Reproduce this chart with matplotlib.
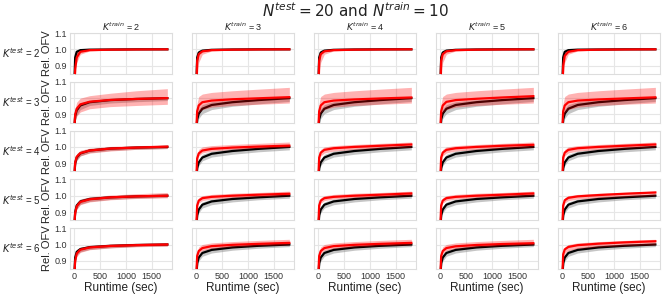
import matplotlib
matplotlib.use('Agg')
import matplotlib.pyplot as plt

# ---------------- data ----------------
T = [5, 20, 50, 120, 300, 700, 1200, 1800]          # runtime (sec)
K_TEST = [2, 3, 4, 5, 6]
K_TRAIN = [2, 3, 4, 5, 6]
X_TICKS = [0, 500, 1000, 1500]
Y_TICKS = [0.9, 1.0, 1.1]

# K_test = 2 (one list per K_train column)
black_k2 = [[0.80, 0.95, 0.985, 0.995, 0.998, 0.999, 1.0, 1.0],
            [0.80, 0.95, 0.980, 0.992, 0.997, 0.999, 1.0, 1.0],
            [0.80, 0.95, 0.980, 0.992, 0.997, 0.999, 1.0, 1.0],
            [0.80, 0.95, 0.980, 0.992, 0.997, 0.999, 1.0, 1.0],
            [0.80, 0.95, 0.985, 0.995, 0.998, 0.999, 1.0, 1.0]]
red_k2 = [[0.75, 0.88, 0.950, 0.985, 0.995, 0.998, 0.999, 1.0],
          [0.78, 0.93, 0.970, 0.988, 0.995, 0.998, 0.999, 1.0],
          [0.78, 0.93, 0.970, 0.988, 0.995, 0.998, 0.999, 1.0],
          [0.78, 0.93, 0.970, 0.988, 0.995, 0.998, 0.999, 1.0],
          [0.75, 0.90, 0.960, 0.985, 0.995, 0.998, 0.999, 1.0]]
black_lo_k2 = [0.75, 0.92, 0.970, 0.985, 0.994, 0.997, 0.999, 0.999]
black_hi_k2 = [0.85, 0.98, 0.995, 0.999, 1.000, 1.000, 1.000, 1.001]
red_lo_k2 = [0.70, 0.83, 0.920, 0.970, 0.990, 0.995, 0.998, 0.999]
red_hi_k2 = [0.80, 0.95, 0.985, 0.995, 0.999, 1.000, 1.000, 1.001]

# K_test = 3
black_k3 = [[0.82, 0.89, 0.925, 0.955, 0.975, 0.988, 0.995, 1.000],
            [0.80, 0.87, 0.905, 0.935, 0.958, 0.975, 0.988, 1.000],
            [0.80, 0.87, 0.905, 0.935, 0.958, 0.975, 0.988, 1.000],
            [0.80, 0.87, 0.905, 0.935, 0.958, 0.975, 0.988, 1.000],
            [0.80, 0.87, 0.905, 0.935, 0.958, 0.975, 0.988, 1.000]]
red_k3 = [[0.82, 0.90, 0.935, 0.962, 0.978, 0.989, 0.995, 1.000],
          [0.82, 0.92, 0.955, 0.975, 0.985, 0.993, 0.999, 1.006],
          [0.82, 0.92, 0.955, 0.975, 0.985, 0.992, 0.998, 1.004],
          [0.82, 0.92, 0.955, 0.977, 0.988, 0.996, 1.004, 1.012],
          [0.82, 0.92, 0.955, 0.975, 0.985, 0.992, 0.998, 1.005]]
black_lo_k3 = [[0.80, 0.86, 0.895, 0.930, 0.955, 0.970, 0.978, 0.985],
               [0.78, 0.84, 0.875, 0.905, 0.930, 0.950, 0.965, 0.980]]
black_hi_k3 = [[0.84, 0.91, 0.945, 0.970, 0.985, 0.995, 1.000, 1.005],
               [0.83, 0.90, 0.935, 0.960, 0.978, 0.990, 0.998, 1.008]]
red_lo_k3 = [[0.80, 0.86, 0.890, 0.915, 0.935, 0.948, 0.955, 0.962],
             [0.80, 0.88, 0.910, 0.930, 0.945, 0.955, 0.962, 0.970]]
red_hi_k3 = [[0.85, 0.94, 0.975, 1.000, 1.015, 1.030, 1.045, 1.058],
             [0.86, 0.97, 1.010, 1.025, 1.035, 1.045, 1.055, 1.066]]

# K_test = 4
black_k4 = [[0.82, 0.90, 0.935, 0.960, 0.978, 0.990, 0.996, 1.000],
            [0.80, 0.87, 0.905, 0.935, 0.958, 0.975, 0.988, 1.000],
            [0.80, 0.87, 0.905, 0.935, 0.958, 0.975, 0.988, 1.000],
            [0.80, 0.87, 0.905, 0.935, 0.958, 0.975, 0.988, 1.000],
            [0.80, 0.87, 0.905, 0.935, 0.958, 0.975, 0.988, 1.000]]
red_k4 = [[0.82, 0.905, 0.940, 0.962, 0.978, 0.990, 0.996, 1.002],
          [0.82, 0.930, 0.960, 0.978, 0.988, 0.996, 1.002, 1.008],
          [0.82, 0.935, 0.965, 0.982, 0.992, 1.000, 1.007, 1.015],
          [0.82, 0.935, 0.965, 0.982, 0.992, 1.000, 1.007, 1.013],
          [0.82, 0.935, 0.965, 0.982, 0.992, 1.000, 1.007, 1.015]]
black_lo_k4 = [[0.80, 0.88, 0.915, 0.945, 0.965, 0.978, 0.985, 0.990],
               [0.78, 0.85, 0.885, 0.915, 0.938, 0.955, 0.970, 0.982]]
black_hi_k4 = [[0.84, 0.92, 0.955, 0.975, 0.990, 1.000, 1.005, 1.008],
               [0.82, 0.89, 0.925, 0.955, 0.975, 0.990, 1.000, 1.010]]
red_lo_k4 = [[0.80, 0.885, 0.920, 0.945, 0.962, 0.975, 0.985, 0.990],
             [0.80, 0.915, 0.945, 0.963, 0.975, 0.985, 0.992, 0.998]]
red_hi_k4 = [[0.84, 0.925, 0.960, 0.980, 0.992, 1.003, 1.008, 1.012],
             [0.84, 0.955, 0.985, 1.000, 1.008, 1.015, 1.022, 1.030]]

# K_test = 5
black_k5 = [[0.82, 0.90, 0.940, 0.965, 0.980, 0.990, 0.996, 1.000],
            [0.80, 0.88, 0.915, 0.945, 0.965, 0.980, 0.990, 1.000],
            [0.80, 0.88, 0.915, 0.945, 0.965, 0.980, 0.990, 1.000],
            [0.80, 0.88, 0.915, 0.945, 0.965, 0.980, 0.990, 1.000],
            [0.80, 0.88, 0.915, 0.945, 0.965, 0.980, 0.990, 1.000]]
red_k5 = [[0.82, 0.895, 0.935, 0.962, 0.978, 0.990, 0.996, 1.000],
          [0.82, 0.940, 0.970, 0.985, 0.993, 1.000, 1.006, 1.012],
          [0.82, 0.940, 0.970, 0.985, 0.993, 1.000, 1.006, 1.014],
          [0.82, 0.940, 0.970, 0.985, 0.993, 1.000, 1.006, 1.014],
          [0.82, 0.940, 0.972, 0.987, 0.996, 1.004, 1.012, 1.020]]
black_lo_k5 = [[0.80, 0.88, 0.920, 0.948, 0.965, 0.977, 0.985, 0.990],
               [0.78, 0.86, 0.895, 0.925, 0.945, 0.962, 0.975, 0.985]]
black_hi_k5 = [[0.84, 0.92, 0.958, 0.980, 0.992, 1.000, 1.005, 1.010],
               [0.82, 0.90, 0.935, 0.962, 0.980, 0.993, 1.002, 1.010]]
red_lo_k5 = [[0.80, 0.875, 0.915, 0.945, 0.962, 0.975, 0.983, 0.987],
             [0.80, 0.925, 0.955, 0.970, 0.980, 0.988, 0.994, 1.000]]
red_hi_k5 = [[0.84, 0.915, 0.955, 0.978, 0.992, 1.004, 1.012, 1.020],
             [0.84, 0.960, 0.988, 1.000, 1.008, 1.015, 1.020, 1.028]]

# K_test = 6
black_k6 = [[0.82, 0.92, 0.955, 0.972, 0.984, 0.992, 0.997, 1.000],
            [0.80, 0.885, 0.920, 0.948, 0.967, 0.982, 0.992, 1.000],
            [0.80, 0.885, 0.920, 0.948, 0.967, 0.982, 0.992, 1.000],
            [0.80, 0.885, 0.920, 0.948, 0.967, 0.982, 0.992, 1.000],
            [0.80, 0.885, 0.920, 0.948, 0.967, 0.982, 0.992, 1.000]]
red_k6 = [[0.82, 0.900, 0.945, 0.968, 0.982, 0.991, 0.996, 1.000],
          [0.82, 0.930, 0.960, 0.978, 0.990, 0.998, 1.004, 1.010],
          [0.82, 0.930, 0.960, 0.978, 0.990, 0.998, 1.004, 1.010],
          [0.82, 0.930, 0.960, 0.978, 0.989, 0.997, 1.003, 1.008],
          [0.82, 0.940, 0.970, 0.985, 0.996, 1.005, 1.013, 1.020]]
black_lo_k6 = [[0.80, 0.90, 0.935, 0.955, 0.970, 0.980, 0.988, 0.992],
               [0.78, 0.86, 0.898, 0.928, 0.948, 0.965, 0.977, 0.987]]
black_hi_k6 = [[0.84, 0.94, 0.970, 0.985, 0.993, 1.000, 1.004, 1.007],
               [0.82, 0.905, 0.940, 0.965, 0.982, 0.995, 1.003, 1.010]]
red_lo_k6 = [[0.80, 0.880, 0.925, 0.952, 0.968, 0.979, 0.986, 0.990],
             [0.80, 0.915, 0.945, 0.963, 0.976, 0.985, 0.992, 0.998]]
red_hi_k6 = [[0.84, 0.920, 0.962, 0.982, 0.995, 1.003, 1.008, 1.012],
             [0.84, 0.955, 0.985, 1.000, 1.010, 1.018, 1.025, 1.032]]

BLACK = [black_k2, black_k3, black_k4, black_k5, black_k6]
RED = [red_k2, red_k3, red_k4, red_k5, red_k6]
BLACK_LO = [[black_lo_k2, black_lo_k2], black_lo_k3, black_lo_k4, black_lo_k5, black_lo_k6]
BLACK_HI = [[black_hi_k2, black_hi_k2], black_hi_k3, black_hi_k4, black_hi_k5, black_hi_k6]
RED_LO = [[red_lo_k2, red_lo_k2], red_lo_k3, red_lo_k4, red_lo_k5, red_lo_k6]
RED_HI = [[red_hi_k2, red_hi_k2], red_hi_k3, red_hi_k4, red_hi_k5, red_hi_k6]

# ---------------- style ----------------
plt.rcParams['font.family'] = ['Liberation Sans', 'DejaVu Sans']
plt.rcParams['mathtext.fontset'] = 'dejavusans'

fig, axes = plt.subplots(5, 5, figsize=(6.64, 2.96), dpi=100, sharex=True, sharey=True)
fig.subplots_adjust(left=0.1054, right=0.994, top=0.8885, bottom=0.0912,
                    wspace=0.196, hspace=0.195)

for r in range(5):
    for c in range(5):
        ax = axes[r][c]
        g = 0 if c == 0 else 1
        ax.set_facecolor('white')
        ax.grid(True, color='#e6e6e6', lw=0.8, zorder=0)
        for s in ax.spines.values():
            s.set_color('#dddddd')
            s.set_linewidth(0.8)
        ax.fill_between(T, BLACK_LO[r][g], BLACK_HI[r][g], color='gray', alpha=0.45, lw=0, zorder=2)
        ax.plot(T, BLACK[r][c], color='black', lw=1.6, zorder=3)
        ax.fill_between(T, RED_LO[r][g], RED_HI[r][g], color='red', alpha=0.3, lw=0, zorder=4)
        ax.plot(T, RED[r][c], color='red', lw=1.6, zorder=5)
        ax.set_xlim(-80, 1890)
        ax.set_ylim(0.85, 1.1)
        ax.set_xticks(X_TICKS)
        ax.set_yticks(Y_TICKS)
        ax.tick_params(length=0, labelsize=6.5, colors='#333333', pad=2)
        if c == 0:
            ax.set_ylabel('Rel. OFV', fontsize=8, color='#222222', labelpad=2)
            ax.text(-0.48, 0.5, r'$K^{test}$ = %d' % K_TEST[r], transform=ax.transAxes,
                    ha='center', va='center', fontsize=7, color='#222222')
        if r == 0:
            ax.set_title(r'$K^{train}$ = %d' % K_TRAIN[c], fontsize=6.5, color='#222222', pad=1.5)
        if r == 4:
            ax.set_xlabel('Runtime (sec)', fontsize=8.5, color='#222222', labelpad=1)

fig.text(0.535, 0.9426, r'$N^{test} = 20$ and $N^{train} = 10$', ha='center', va='baseline',
         fontsize=11, family='DejaVu Sans', color='#222222')

fig.savefig('out.png', dpi=100)
